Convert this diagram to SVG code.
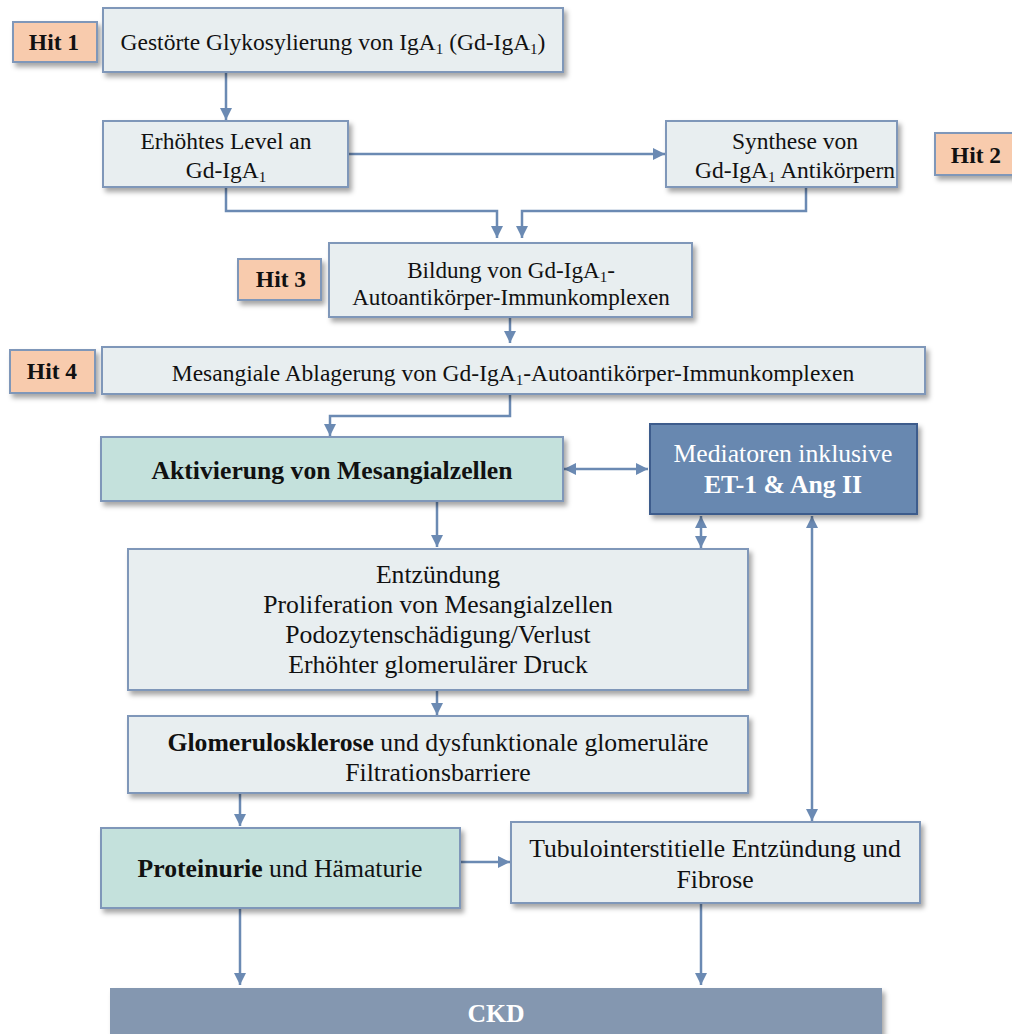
<svg xmlns="http://www.w3.org/2000/svg" width="1012" height="1034" viewBox="0 0 1012 1034">
<defs>
<filter id="sh" x="-10%" y="-10%" width="125%" height="140%">
<feDropShadow dx="3" dy="4" stdDeviation="2.5" flood-color="#000" flood-opacity="0.35"/>
</filter>
<marker id="ah" viewBox="0 0 12 12" refX="12" refY="6" markerWidth="12" markerHeight="12" markerUnits="userSpaceOnUse" orient="auto-start-reverse">
<path d="M0,0 L12,6 L0,12 Z" fill="#6b8ab3"/>
</marker>
</defs>
<style>
.box{fill:#e8eef0;stroke:#7f97b9;stroke-width:2;filter:url(#sh)}
.hit{fill:#f8cbad;stroke:#7f97b9;stroke-width:2;filter:url(#sh)}
.teal{fill:#c4e1dc;stroke:#7f97b9;stroke-width:2;filter:url(#sh)}
.med{fill:#6888b0;stroke:#3e5b8c;stroke-width:2;filter:url(#sh)}
.ckd{fill:#8497b0;filter:url(#sh)}
text{font-family:"Liberation Serif","Times New Roman",serif;fill:#111;text-anchor:middle}
.s1{font-size:23.5px}
.s4{font-size:23.1px}
.s2{font-size:25.7px}
.b{font-weight:bold}
.w{fill:#fff}
.hl{font-weight:bold;font-size:23.5px}
.con{fill:none;stroke:#6b8ab3;stroke-width:2.5}
.sub{font-size:15px}
</style>

<g id="connectors">
<path class="con" d="M226,73 V120" marker-end="url(#ah)"/>
<path class="con" d="M349,154 H665" marker-end="url(#ah)"/>
<path class="con" d="M226,188 V211 H497 V238" marker-end="url(#ah)"/>
<path class="con" d="M806,188 V211 H522 V238" marker-end="url(#ah)"/>
<path class="con" d="M510,318 V343" marker-end="url(#ah)"/>
<path class="con" d="M510,395 V416 H330 V436" marker-end="url(#ah)"/>
<path class="con" d="M564,469 H648" marker-start="url(#ah)" marker-end="url(#ah)"/>
<path class="con" d="M437,502 V547" marker-end="url(#ah)"/>
<path class="con" d="M701,516 V548" marker-start="url(#ah)" marker-end="url(#ah)"/>
<path class="con" d="M812,516 V821" marker-start="url(#ah)" marker-end="url(#ah)"/>
<path class="con" d="M437,691 V715" marker-end="url(#ah)"/>
<path class="con" d="M240,794 V826" marker-end="url(#ah)"/>
<path class="con" d="M461,862 H510" marker-end="url(#ah)"/>
<path class="con" d="M240,909 V985" marker-end="url(#ah)"/>
<path class="con" d="M701,904 V985" marker-end="url(#ah)"/>
</g>

<g id="hit1"><rect class="hit" x="13" y="22" width="84" height="40"/><text class="hl" x="54" y="50">Hit 1</text></g>
<g id="n1"><rect class="box" x="103" y="8" width="460" height="64"/>
<text class="s1" x="333" y="50">Gestörte Glykosylierung von IgA<tspan class="sub" dy="4">1</tspan><tspan dy="-4"> (Gd-IgA</tspan><tspan class="sub" dy="4">1</tspan><tspan dy="-4">)</tspan></text></g>

<g id="n2"><rect class="box" x="103" y="121" width="245" height="66"/>
<text class="s1" x="226" y="149">Erhöhtes Level an</text>
<text class="s1" x="226" y="178">Gd-IgA<tspan class="sub" dy="4">1</tspan></text></g>

<g id="n3"><rect class="box" x="666" y="121" width="231" height="66"/>
<text class="s1" x="795" y="149">Synthese von</text>
<text class="s1" x="795" y="178">Gd-IgA<tspan class="sub" dy="4">1</tspan><tspan dy="-4"> Antikörpern</tspan></text></g>
<g id="hit2"><rect class="hit" x="935" y="133" width="80" height="42"/><text class="hl" x="976" y="163">Hit 2</text></g>

<g id="hit3"><rect class="hit" x="238" y="259" width="83" height="41"/><text class="hl" x="281" y="287">Hit 3</text></g>
<g id="n4"><rect class="box" x="329" y="243" width="363" height="74"/>
<text class="s4" x="511" y="278">Bildung von Gd-IgA<tspan class="sub" dy="4">1</tspan><tspan dy="-4">-</tspan></text>
<text class="s4" x="511" y="305">Autoantikörper-Immunkomplexen</text></g>

<g id="hit4"><rect class="hit" x="10" y="350" width="85" height="43"/><text class="hl" x="52" y="379">Hit 4</text></g>
<g id="n5"><rect class="box" x="102" y="347" width="823" height="47"/>
<text class="s1" x="513" y="381">Mesangiale Ablagerung von Gd-IgA<tspan class="sub" dy="4">1</tspan><tspan dy="-4">-Autoantikörper-Immunkomplexen</tspan></text></g>

<g id="n6"><rect class="teal" x="101" y="437" width="462" height="64"/>
<text class="s2 b" x="332" y="479">Aktivierung von Mesangialzellen</text></g>

<g id="n7"><rect class="med" x="650" y="424" width="267" height="90"/>
<text class="s2 w" x="783" y="462">Mediatoren inklusive</text>
<text class="s2 w b" x="783" y="493">ET-1 &amp; Ang II</text></g>

<g id="n8"><rect class="box" x="128" y="549" width="620" height="141"/>
<text class="s2" x="438" y="583">Entzündung</text>
<text class="s2" x="438" y="613">Proliferation von Mesangialzellen</text>
<text class="s2" x="438" y="643">Podozytenschädigung/Verlust</text>
<text class="s2" x="438" y="673">Erhöhter glomerulärer Druck</text></g>

<g id="n9"><rect class="box" x="128" y="716" width="620" height="77"/>
<text class="s2" x="438" y="751"><tspan font-weight="bold">Glomerulosklerose</tspan> und dysfunktionale glomeruläre</text>
<text class="s2" x="438" y="781">Filtrationsbarriere</text></g>

<g id="n10"><rect class="teal" x="101" y="828" width="359" height="80"/>
<text class="s2" x="280" y="877"><tspan font-weight="bold">Proteinurie</tspan> und Hämaturie</text></g>

<g id="n11"><rect class="box" x="511" y="822" width="409" height="81"/>
<text class="s2" x="715" y="857">Tubulointerstitielle Entzündung und</text>
<text class="s2" x="715" y="888">Fibrose</text></g>

<g id="ckd"><rect class="ckd" x="110" y="988" width="772" height="60"/>
<text class="s2 w b" x="496" y="1022">CKD</text></g>
</svg>
